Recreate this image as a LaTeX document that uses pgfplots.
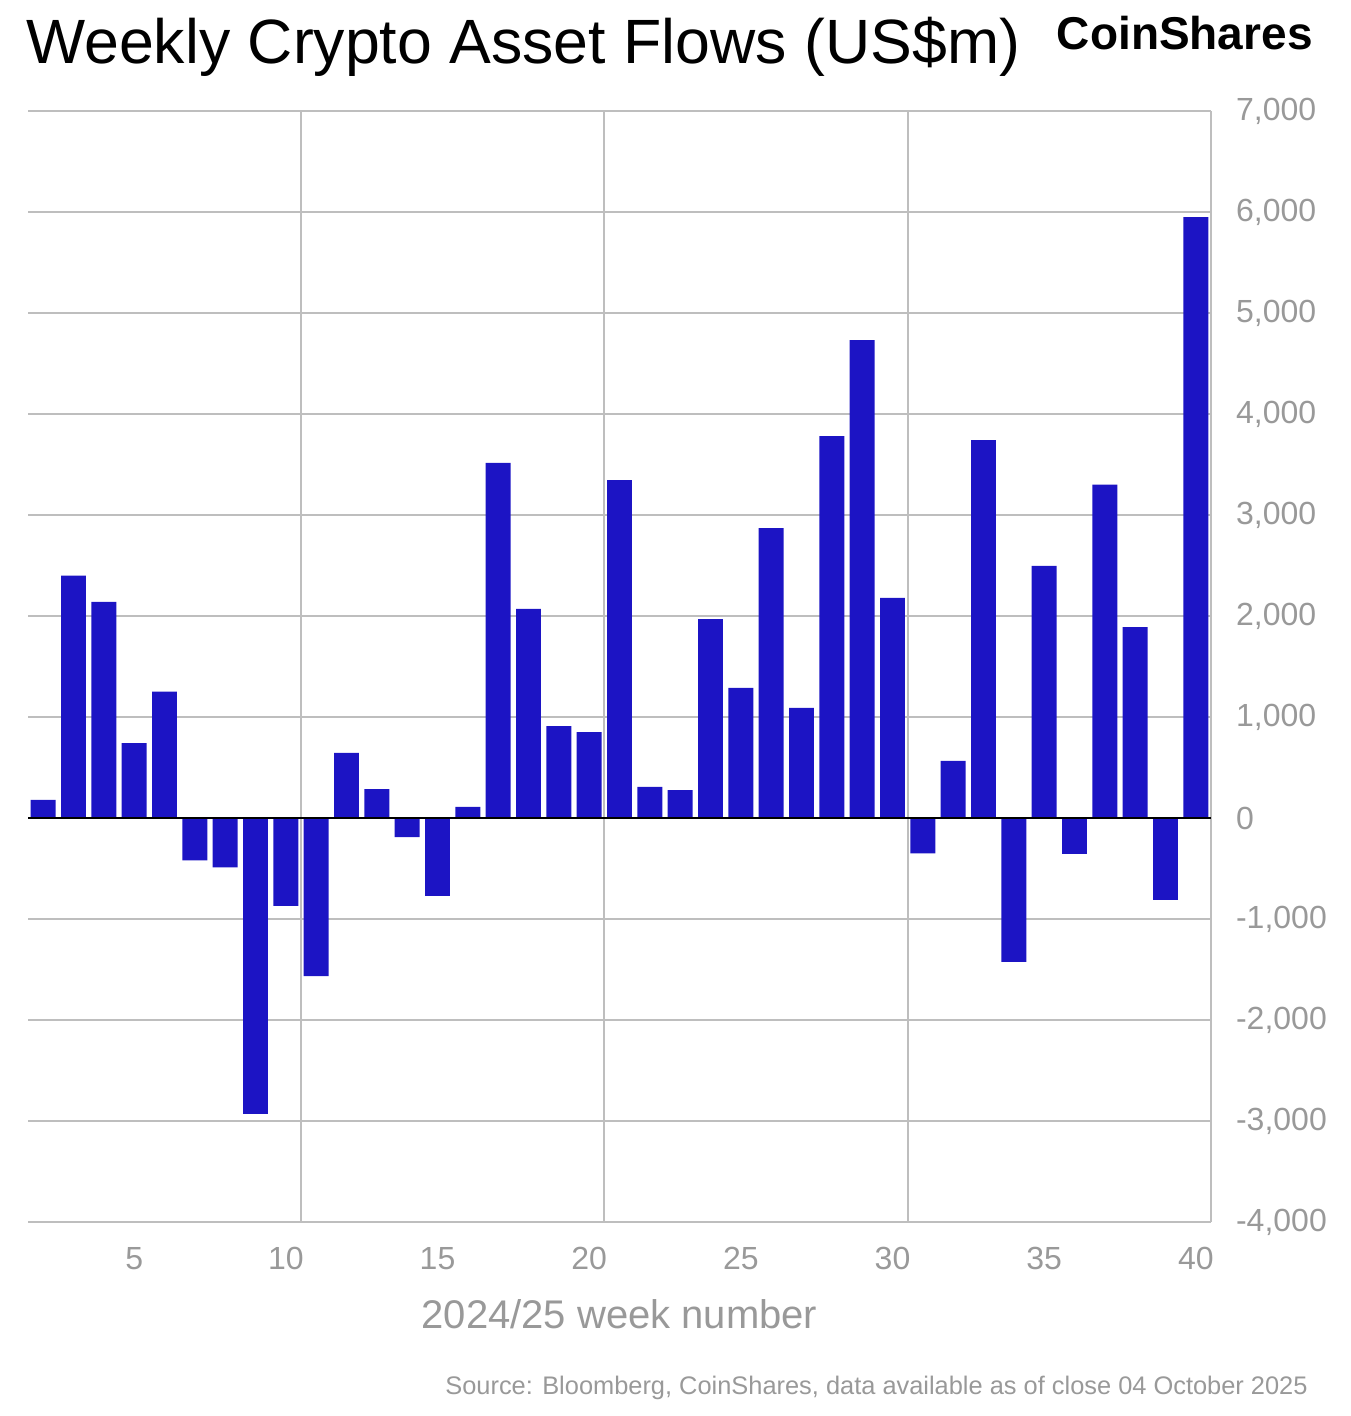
\documentclass[border=0pt]{standalone}
\usepackage{pgfplots}
\pgfplotsset{compat=1.18}
\usepackage{fontspec}
\setmainfont{Liberation Sans}
\definecolor{barblue}{HTML}{1C14C4}
\definecolor{gridg}{HTML}{BEBEBE}
\definecolor{txtg}{HTML}{999999}
\begin{document}
\begin{tikzpicture}[x=0.5pt,y=0.5pt]
\useasboundingbox (-28,-194) rectangle (1322,1222);
\begin{axis}[at={(0,0)},anchor=south west,
  scale only axis, width=591.5pt, height=555.5pt,
  xmin=1.5, xmax=40.5, ymin=-4000, ymax=7000,
  axis x line*=bottom, axis y line*=right,
  axis line style={gridg, line width=1pt},
  xtick={5,10,...,40}, extra x ticks={10.5,20.5,30.5},
  extra x tick labels={}, extra x tick style={grid=major, major grid style={gridg,line width=1pt}, major tick length=0pt},
  major tick length=0pt,
  ytick={-4000,-3000,...,7000}, ymajorgrids, major grid style={gridg,line width=1pt},
  yticklabel pos=right,
  /pgf/number format/assume math mode=true,
  /pgf/number format/1000 sep={,},
  tick label style={txtg, font=\fontsize{16}{19}\selectfont},
  yticklabel style={anchor=west, xshift=9pt},
  xticklabel style={yshift=-9pt},
  xlabel={2024/25 week number}, xlabel style={txtg, font=\fontsize{20}{23}\selectfont, yshift=-8pt},
  clip=false]
\addplot[ybar, bar width=0.82, fill=barblue, draw=none] coordinates {
(2,180) (3,2400) (4,2140) (5,740) (6,1250) (7,-420) (8,-490) (9,-2930) (10,-870) (11,-1565)
(12,645) (13,287) (14,-190) (15,-770) (16,110) (17,3515) (18,2070) (19,910) (20,850) (21,3345)
(22,307) (23,277) (24,1970) (25,1287) (26,2870) (27,1090) (28,3780) (29,4730) (30,2180) (31,-350)
(32,565) (33,3740) (34,-1425) (35,2495) (36,-355) (37,3300) (38,1890) (39,-810) (40,5950)};
\draw[black, line width=1pt] (axis cs:1.5,0) -- (axis cs:40.5,0);
\end{axis}
\node[anchor=base west, inner sep=0, font=\fontsize{31.3}{34}\selectfont] at (-2,1158) {Weekly Crypto Asset Flows (US\$m)};
\node[anchor=base east, inner sep=0, font=\bfseries\fontsize{23}{26}\selectfont] at (1285,1172) {CoinShares};
\node[anchor=base east, inner sep=0, txtg, font=\fontsize{12.7}{15}\selectfont] at (1280,-172) {Source: Bloomberg, CoinShares, data available as of close 04 October 2025};
\end{tikzpicture}%
\end{document}
